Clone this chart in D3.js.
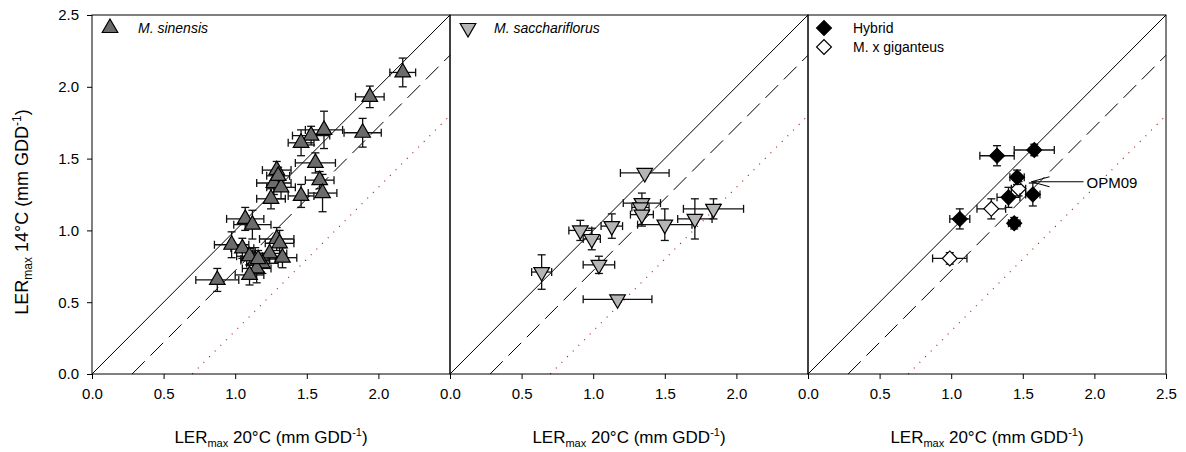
<!DOCTYPE html>
<html>
<head>
<meta charset="utf-8">
<script src="https://cdn.jsdelivr.net/npm/d3@7"></script>
<style>
  body { margin: 0; background: #fff; }
  text { font-family: "Liberation Sans", Arial, sans-serif; fill: #000; }
</style>
</head>
<body>
<div id="chart"></div>
<script>
// Data: [LER 20°C, LER 14°C, x error, y error]
var sinensisPts = [
  [2.17, 2.10, 0.09, 0.10], [1.94, 1.93, 0.10, 0.075], [1.89, 1.68, 0.13, 0.10],
  [1.62, 1.70, 0.13, 0.13], [1.53, 1.66, 0.13, 0.065], [1.46, 1.61, 0.09, 0.09],
  [1.56, 1.47, 0.14, 0.07], [1.59, 1.35, 0.10, 0.06], [1.61, 1.26, 0.10, 0.13],
  [1.46, 1.24, 0.09, 0.08], [1.29, 1.42, 0.10, 0.06], [1.27, 1.33, 0.12, 0.08],
  [1.32, 1.30, 0.10, 0.08], [1.25, 1.22, 0.10, 0.07], [1.30, 1.38, 0.08, 0.06],
  [1.07, 1.08, 0.13, 0.08], [1.12, 1.04, 0.13, 0.10], [0.975, 0.90, 0.12, 0.09],
  [1.05, 0.875, 0.08, 0.07], [1.29, 0.94, 0.12, 0.08], [1.31, 0.91, 0.10, 0.09],
  [1.24, 0.84, 0.12, 0.07], [1.33, 0.81, 0.10, 0.07], [1.14, 0.79, 0.10, 0.09],
  [1.19, 0.77, 0.11, 0.07], [1.15, 0.735, 0.10, 0.10], [1.10, 0.69, 0.10, 0.07],
  [0.875, 0.655, 0.15, 0.08], [1.10, 0.82, 0.09, 0.06], [1.16, 0.80, 0.12, 0.06]
];
var sacchariflorusPts = [
  [0.64, 0.71, 0.07, 0.12], [0.91, 1.00, 0.08, 0.07], [0.99, 0.94, 0.06, 0.075],
  [1.04, 0.76, 0.11, 0.06], [1.13, 1.03, 0.075, 0.085], [1.17, 0.52, 0.24, 0.02],
  [1.36, 1.40, 0.17, 0.02], [1.34, 1.19, 0.13, 0.07], [1.33, 1.16, 0.06, 0.04],
  [1.34, 1.11, 0.08, 0.08], [1.50, 1.04, 0.19, 0.11], [1.71, 1.08, 0.12, 0.14],
  [1.84, 1.15, 0.21, 0.07]
];
var hybridPts = [
  [1.32, 1.52, 0.12, 0.07], [1.58, 1.56, 0.14, 0.04], [1.46, 1.37, 0.05, 0.05],
  [1.57, 1.25, 0.05, 0.08], [1.40, 1.23, 0.08, 0.07], [1.06, 1.08, 0.07, 0.07],
  [1.44, 1.05, 0.04, 0.04]
];
var gigantPts = [
  [1.47, 1.29, 0.05, 0.05], [1.28, 1.15, 0.10, 0.07], [0.99, 0.805, 0.12, 0.04]
];
// Reference lines y = x + b : 1:1, dashed, dotted
var lineIntercepts = [0, -0.28, -0.70];
var xTicksInner = [0, 0.5, 1.0, 1.5, 2.0];
var xTicksLast = [0, 0.5, 1.0, 1.5, 2.0, 2.5];
var yTicks = [0, 0.5, 1.0, 1.5, 2.0, 2.5];

var width = 1186, height = 452;
var padLeft = 92, padTop = 15, panelW = 358, panelH = 359;

var svg = d3.select("#chart").append("svg")
    .attr("width", width)
    .attr("height", height);

var yScale = d3.scaleLinear().domain([0, 2.5]).range([padTop + panelH, padTop]);

var panels = [
  { series: [{ pts: sinensisPts, shape: "up", fill: "#6b6b6b" }],
    legend: [{ shape: "up", fill: "#6b6b6b", text: "M. sinensis", italic: true }],
    ticks: xTicksInner },
  { series: [{ pts: sacchariflorusPts, shape: "down", fill: "#b5b5b5" }],
    legend: [{ shape: "down", fill: "#b5b5b5", text: "M. sacchariflorus", italic: true }],
    ticks: xTicksInner },
  { series: [{ pts: gigantPts, shape: "diamond", fill: "#fff" },
             { pts: hybridPts, shape: "diamond", fill: "#000" }],
    legend: [{ shape: "diamond", fill: "#000", text: "Hybrid", italic: false },
             { shape: "diamond", fill: "#fff", text: "M. x giganteus", italic: false }],
    ticks: xTicksLast }
];

function symbolPath(shape) {
  if (shape === "diamond") return d3.symbol().type(d3.symbolSquare).size(110)();
  return d3.symbol().type(d3.symbolTriangle).size(105)();
}
function symbolRotate(shape) {
  if (shape === "diamond") return 45;
  if (shape === "down") return 180;
  return 0;
}

var lineStyles = [
  { dash: null, color: "#000", w: 1 },
  { dash: "18,8", color: "#000", w: 1 },
  { dash: "1,7", color: "#b02020", w: 1.2 }
];

panels.forEach(function(p, i) {
  var x0 = padLeft + i * panelW;
  var xScale = d3.scaleLinear().domain([0, 2.5]).range([x0, x0 + panelW]);
  var g = svg.append("g").attr("class", "panel" + i);

  // reference lines
  lineIntercepts.forEach(function(b, k) {
    var xa = Math.max(0, -b), xb = 2.5;
    var st = lineStyles[k];
    g.append("line")
      .attr("x1", xScale(xa)).attr("y1", yScale(xa + b))
      .attr("x2", xScale(xb)).attr("y2", yScale(xb + b))
      .attr("stroke", st.color)
      .attr("stroke-width", st.w)
      .attr("stroke-dasharray", st.dash);
  });

  // error bars then markers
  p.series.forEach(function(s) {
    var eb = g.append("g").attr("stroke", "#111").attr("stroke-width", 1.3);
    s.pts.forEach(function(d) {
      var cx = xScale(d[0]), cy = yScale(d[1]);
      var xl = xScale(d[0] - d[2]), xr = xScale(d[0] + d[2]);
      var yt = yScale(d[1] + d[3]), yb = yScale(d[1] - d[3]);
      eb.append("line").attr("x1", xl).attr("x2", xr).attr("y1", cy).attr("y2", cy);
      eb.append("line").attr("x1", xl).attr("x2", xl).attr("y1", cy - 4).attr("y2", cy + 4);
      eb.append("line").attr("x1", xr).attr("x2", xr).attr("y1", cy - 4).attr("y2", cy + 4);
      eb.append("line").attr("x1", cx).attr("x2", cx).attr("y1", yt).attr("y2", yb);
      eb.append("line").attr("x1", cx - 4).attr("x2", cx + 4).attr("y1", yt).attr("y2", yt);
      eb.append("line").attr("x1", cx - 4).attr("x2", cx + 4).attr("y1", yb).attr("y2", yb);
    });
    g.selectAll(null).data(s.pts).enter().append("path")
      .attr("d", symbolPath(s.shape))
      .attr("transform", function(d) {
        return "translate(" + xScale(d[0]) + "," + yScale(d[1]) + ")rotate(" + symbolRotate(s.shape) + ")";
      })
      .attr("fill", s.fill)
      .attr("stroke", "#000")
      .attr("stroke-width", 1.2);
  });

  // frame
  g.append("rect")
    .attr("x", x0).attr("y", padTop)
    .attr("width", panelW).attr("height", panelH)
    .attr("fill", "none").attr("stroke", "#000").attr("stroke-width", 1);

  // x axis
  var xAxis = d3.axisBottom(xScale)
    .tickValues(p.ticks)
    .tickFormat(d3.format(".1f"))
    .tickSize(5).tickSizeOuter(0).tickPadding(9);
  var ax = g.append("g")
    .attr("transform", "translate(0," + (padTop + panelH) + ")")
    .call(xAxis);
  ax.select(".domain").remove();
  ax.selectAll("text").attr("font-size", 15).attr("font-family", "Liberation Sans, Arial, sans-serif");

  // x axis title
  var xt = g.append("text")
    .attr("x", x0 + panelW / 2).attr("y", 443)
    .attr("text-anchor", "middle")
    .attr("font-size", 17);
  xt.append("tspan").text("LER");
  xt.append("tspan").attr("font-size", 11).attr("dy", 4).text("max");
  xt.append("tspan").attr("dy", -4).text(" 20°C (mm GDD");
  xt.append("tspan").attr("font-size", 11).attr("dy", -7).text("-1");
  xt.append("tspan").attr("dy", 7).text(")");

  // legend
  p.legend.forEach(function(l, k) {
    var ly = 28 + k * 19;
    var lx = padLeft + i * panelW + (l.shape === "diamond" ? 16 : 18);
    g.append("path")
      .attr("d", symbolPath(l.shape))
      .attr("transform", "translate(" + lx + "," + ly + ")rotate(" + symbolRotate(l.shape) + ")")
      .attr("fill", l.fill).attr("stroke", "#000").attr("stroke-width", 1.2);
    g.append("text")
      .attr("x", padLeft + i * panelW + (l.shape === "diamond" ? 45 : (i === 0 ? 46 : 44)))
      .attr("y", ly + 5)
      .attr("font-size", 14)
      .attr("font-style", l.italic ? "italic" : "normal")
      .text(l.text);
  });

  // OPM09 annotation on the M. x giganteus point
  if (i === 2) {
    var tp = gigantPts[0];
    var tx = xScale(tp[0]) + 13, ty = yScale(tp[1]) - 7;
    g.append("line").attr("x1", tx).attr("y1", ty).attr("x2", tx + 52).attr("y2", ty)
      .attr("stroke", "#000").attr("stroke-width", 1);
    g.append("path")
      .attr("d", "M" + (tx + 18) + "," + (ty - 5) + "L" + tx + "," + ty + "L" + (tx + 18) + "," + (ty + 5))
      .attr("fill", "none").attr("stroke", "#000").attr("stroke-width", 1);
    g.append("text").attr("x", tx + 55).attr("y", ty + 6)
      .attr("font-size", 15).text("OPM09");
  }
});

// y axis
var yAxis = d3.axisLeft(yScale)
  .tickValues(yTicks)
  .tickFormat(d3.format(".1f"))
  .tickSize(5).tickSizeOuter(0).tickPadding(8);
var ay = svg.append("g")
  .attr("transform", "translate(" + padLeft + ",0)")
  .call(yAxis);
ay.select(".domain").remove();
ay.selectAll("text").attr("font-size", 15).attr("font-family", "Liberation Sans, Arial, sans-serif");

// y axis title
var ytl = svg.append("text")
  .attr("transform", "translate(28,212)rotate(-90)")
  .attr("text-anchor", "middle")
  .attr("font-size", 18);
ytl.append("tspan").text("LER");
ytl.append("tspan").attr("font-size", 12).attr("dy", 4).text("max");
ytl.append("tspan").attr("dy", -4).text(" 14°C (mm GDD");
ytl.append("tspan").attr("font-size", 12).attr("dy", -7).text("-1");
ytl.append("tspan").attr("dy", 7).text(")");
</script>
</body>
</html>
